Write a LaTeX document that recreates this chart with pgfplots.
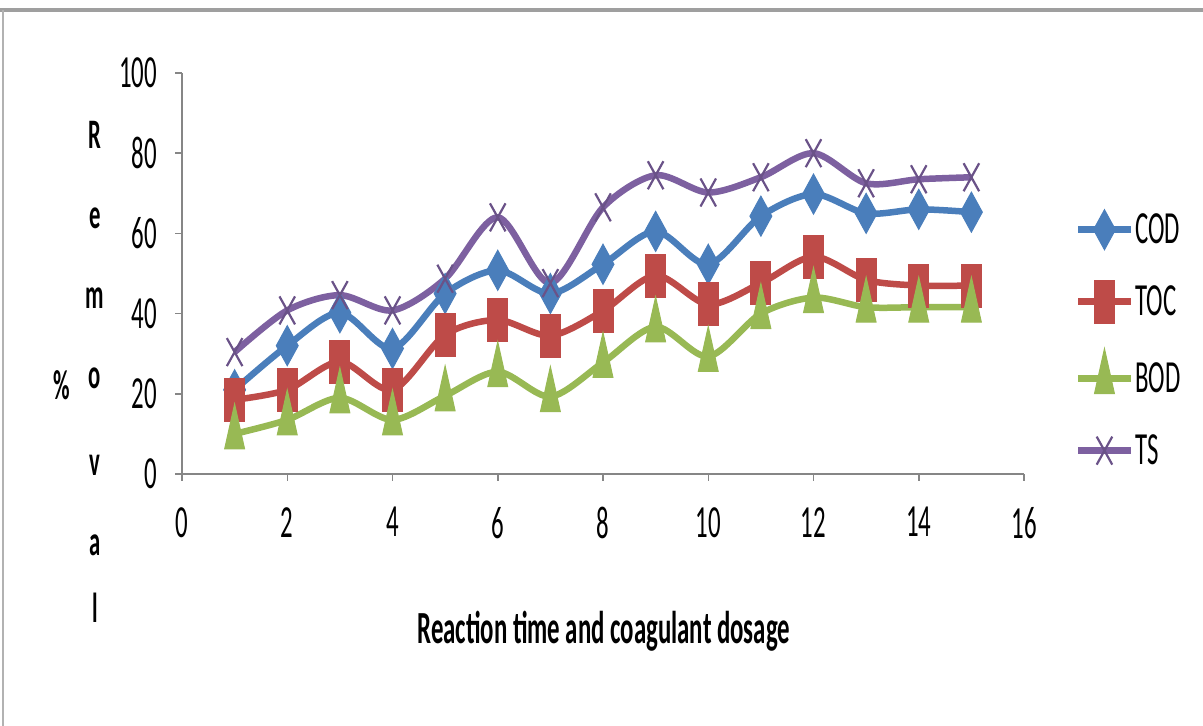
\documentclass[border=0pt]{standalone}
\usepackage{fontspec}
\setmainfont[FakeStretch=0.54]{Carlito}
\usepackage{pgfplots}
\pgfplotsset{compat=1.18}
\definecolor{cod}{HTML}{4A7EBB}
\definecolor{toc}{HTML}{BE4B48}
\definecolor{bod}{HTML}{98B954}
\definecolor{ts}{HTML}{7D60A0}
\definecolor{axisgray}{HTML}{868686}
\begin{document}
\begin{tikzpicture}
\path[use as bounding box] (0bp,0bp) rectangle (1203bp,726bp);
\draw[gray!75, line width=4bp] (0bp,716bp) -- (1203bp,716bp);
\draw[gray!60, line width=1.5bp] (3bp,716bp) -- (3bp,0bp);
\begin{axis}[
  at={(182bp,252bp)}, anchor=south west,
  scale only axis, width=842bp, height=401bp,
  xmin=0, xmax=16, ymin=0, ymax=100,
  xtick={0,2,...,16}, ytick={0,20,...,100},
  axis x line=bottom, axis y line=left,
  axis line style={-, draw=axisgray, line width=1.5bp},
  tick align=outside, major tick length=7bp,
  tick style={draw=axisgray, line width=1.5bp},
  clip=false,
  font=\fontsize{46bp}{52bp}\selectfont,
  /pgf/number format/assume math mode=true,
  yticklabel style={anchor=east, inner sep=0pt, xshift=-18bp},
  xticklabel style={anchor=north, inner sep=0pt, yshift=-26bp},
  xlabel={\bfseries Reaction time and coagulant dosage},
  xlabel style={at={(axis description cs:0.501,0)}, anchor=base, yshift=-169bp, inner sep=0pt},
  legend style={draw=none, fill=none, at={(1.0606,0.672)}, anchor=north west,
    row sep=22bp, inner sep=0pt, font=\fontsize{46bp}{52bp}\selectfont,
    nodes={inner sep=1.5bp}},
  legend cell align=left,
  legend image code/.code={\path[draw=none,fill=none] (0bp,-25bp) rectangle (52bp,25bp);
    \draw[mark repeat=2,mark phase=2,#1] plot coordinates {(0bp,0bp) (26bp,0bp) (52bp,0bp)};},
  every axis plot/.append style={line width=6.5bp, smooth, tension=0.5},
]
\addplot[cod, mark=diamond*, mark size=20bp, mark options={xscale=0.73, line width=1bp, fill=cod}]
coordinates {(1,21) (2,32) (3,40.2) (4,31.3) (5,45) (6,50.8) (7,45) (8,52.3) (9,60.5) (10,52.3) (11,64.3) (12,69.8) (13,65) (14,66) (15,65.3)};
\addlegendentry{COD}
\addplot[toc, mark=square*, mark size=10bp, mark options={yscale=2.15, line width=1bp, fill=toc}]
coordinates {(1,18.5) (2,21) (3,28) (4,21) (5,34.7) (6,38.4) (7,34.5) (8,40.7) (9,49.5) (10,42.3) (11,47.6) (12,54.2) (13,48.4) (14,47) (15,47)};
\addlegendentry{TOC}
\addplot[bod, mark=triangle*, mark size=11.5bp, mark options={yscale=2.6, line width=1bp, fill=bod}]
coordinates {(1,10) (2,13.5) (3,19) (4,13.5) (5,19.5) (6,25.5) (7,19.3) (8,27.8) (9,36.7) (10,29.3) (11,40) (12,44) (13,41.6) (14,41.6) (15,41.6)};
\addlegendentry{BOD}
\addplot[ts, mark=x, mark size=11bp, mark options={yscale=1.8, line width=2.2bp, draw=ts!85!black}]
coordinates {(1,30.4) (2,40.8) (3,44.6) (4,40.8) (5,48.7) (6,64) (7,47.6) (8,66.5) (9,74.5) (10,70.2) (11,74) (12,80) (13,72.5) (14,73.5) (15,74)};
\addlegendentry{TS}
\end{axis}
\begin{scope}[font=\fontsize{42bp}{48bp}\selectfont\bfseries]
\node at (95bp,591bp) {R};
\node at (95bp,508bp) {e};
\node at (95bp,428bp) {m};
\node at (95bp,348bp) {o};
\node at (95bp,261bp) {v};
\node at (95bp,181bp) {a};
\node at (95bp,118bp) {l};
\node at (62bp,341bp) {\%};
\end{scope}
\end{tikzpicture}
\end{document}
